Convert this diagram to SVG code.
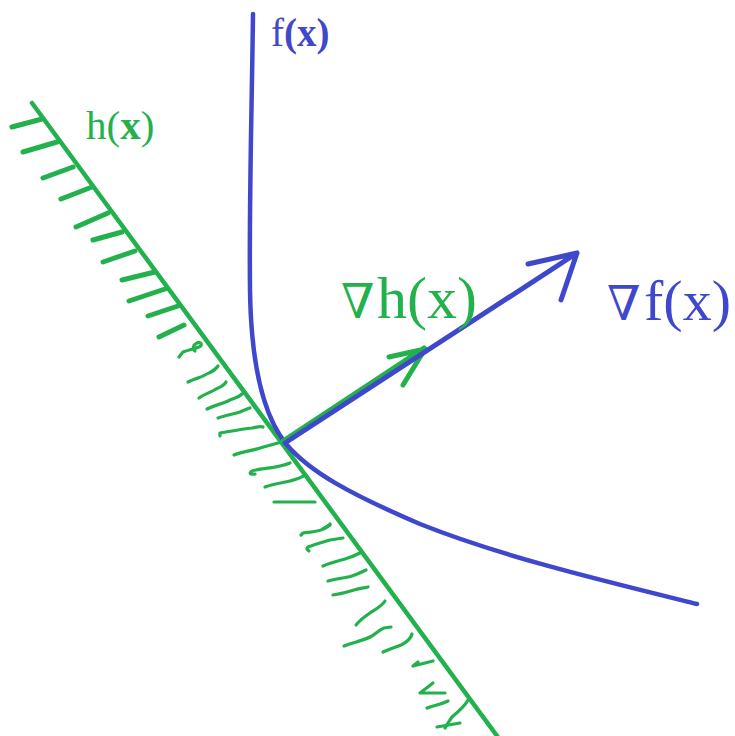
<svg xmlns="http://www.w3.org/2000/svg" width="735" height="736" viewBox="0 0 735 736">
<style>
.g{stroke:#22b14c;fill:none;stroke-linecap:round;stroke-linejoin:round}
.b{stroke:#3f48cc;fill:none;stroke-linecap:round;stroke-linejoin:round}
.tick{stroke-width:5}
.sq{stroke-width:3.2}
.lbl{font-family:"Liberation Serif","DejaVu Serif",serif}
.nab{font-family:"DejaVu Serif",serif;font-size:48px}
</style>
<rect width="735" height="736" fill="#fff"/>
<g id="constraint-h">
<path class="g" stroke-width="4.5" d="M32,103 L500,740"/>
<g class="g tick">
<path d="M12,127 L42,119"/>
<path d="M23,152 L57,142"/>
<path d="M43,178 L73,167"/>
<path d="M61,199 L92,187"/>
<path d="M76,227 L108,213"/>
<path d="M93,240 L122,232"/>
<path d="M103,262 L135,251"/>
<path d="M122,280 L155,272"/>
<path d="M129,301 L165,289"/>
<path d="M148,316 L178,306"/>
<path d="M159,337 L184,325"/>
</g>
<g class="g sq">
<path d="M179,357 L183,352 C188,350 194,349 199,347 C203,345 201,341 197,343 C193,345 192,349 195,351"/>
<path d="M188,382 C196,378 200,378 205,375 C210,372 214,372 218,366"/>
<path d="M199,398 C206,393 212,392 216,389 C220,387 224,386 226,382"/>
<path d="M207,409 C215,405 222,404 228,401 C234,398 238,398 242,394"/>
<path d="M218,418 C226,415 234,414 240,412 C245,410 247,409 250,408"/>
<path d="M220,436 L220,433 C232,431 243,429 252,428 C257,427 261,426 263,427"/>
<path d="M234,455 C244,451 252,451 260,448 C267,446 274,444 285,441"/>
<path d="M255,474 C248,475 249,471 256,470 C265,468 278,468 290,463"/>
<path d="M265,487 C275,483 283,483 290,481 C297,479 301,478 305,475"/>
<path d="M274,502 L315,502"/>
<path d="M323,529 L330,525"/>
<path d="M301,535 L303,533 C310,532 318,532 323,529 C327,527 329,526 330,524"/>
<path d="M309,551 C306,549 306,547 311,546 C318,543 324,542 330,540 L343,538"/>
<path d="M323,566 C330,563 338,561 345,559 C352,557 356,555 360,553"/>
<path d="M328,581 C338,578 346,578 352,576 C358,574 362,572 366,570"/>
<path d="M333,595 C340,594 348,592 354,590 C360,588 364,588 368,587"/>
<path d="M356,625 C360,620 364,617 370,613 C376,609 382,606 385,601"/>
<path d="M344,646 C355,642 365,640 372,636 C377,633 379,630 384,628 L391,627"/>
<path d="M383,652 C390,649 396,647 401,645 C407,642 411,638 412,634"/>
<path d="M413,666 L433,661 M413,666 L418,662"/>
<path d="M445,693 L420,693 L433,683"/>
<path d="M427,708 C434,705 440,705 448,701"/>
<path d="M468,700 C465,706 458,712 452,717 C449,721 447,725 445,728"/>
<path d="M437,727 L460,723"/>
</g>
</g>
<g id="function-f">
<path class="b" stroke-width="4.5" d="M253,14 C252,100 249,200 250,290 C251,360 262,415 287,445 C310,472 350,494 420,524 C500,556 600,580 697,604"/>
</g>
<g id="gradients">
<g id="grad-h">
<path class="g" stroke-width="5" d="M283,441 L424,348 M425,349 L389,357 M425,349 L403,385"/>
</g>
<g id="grad-f">
<path class="b" stroke-width="5" d="M285,443 L577,253 M577,253 L528,264 M577,253 L561,300"/>
</g>
</g>
<g id="labels" class="lbl">
<text x="271" y="46" font-size="39" fill="#3f48cc">f<tspan font-weight="bold">(x)</tspan></text>
<text x="86" y="139" font-size="41" fill="#22b14c">h(<tspan font-weight="bold">x</tspan>)</text>
<text x="341" y="318" class="nab" fill="#22b14c">∇</text>
<text x="377" y="318" font-size="60" fill="#22b14c">h(x)</text>
<text x="607" y="320" class="nab" fill="#3f48cc">∇</text>
<text x="644" y="320" font-size="58" fill="#3f48cc">f(x)</text>
</g>
</svg>
